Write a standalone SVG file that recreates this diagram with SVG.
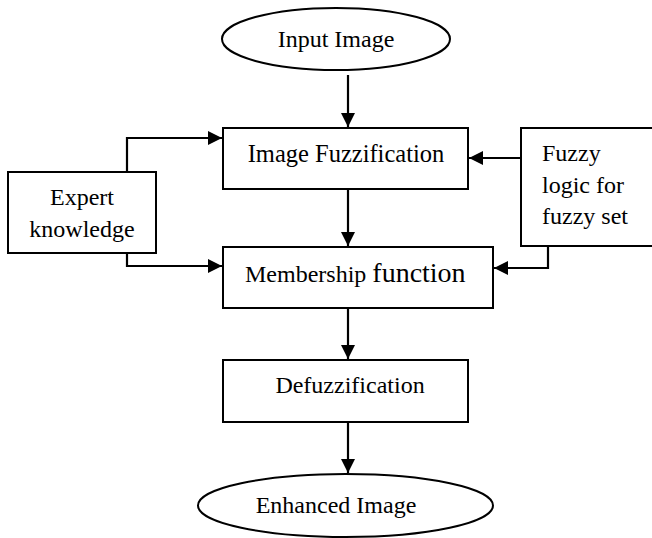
<svg xmlns="http://www.w3.org/2000/svg" width="652" height="538" viewBox="0 0 652 538">
<style>
.box{fill:#fff;stroke:#000;stroke-width:2}
.t{font-family:"Liberation Serif","Times New Roman",serif;font-size:24px;fill:#000}
.c{fill:none;stroke:#000;stroke-width:2.2}
</style>
<defs>
<marker id="ah" markerUnits="userSpaceOnUse" markerWidth="16" markerHeight="16" viewBox="0 0 16 16" refX="15" refY="8" orient="auto">
<path d="M1,1 L15,8 L1,15 Z" fill="#000"/>
</marker>
</defs>
<g id="connectors">
<line class="c" x1="348" y1="75" x2="348" y2="127" marker-end="url(#ah)"/>
<line class="c" x1="348" y1="190" x2="348" y2="246" marker-end="url(#ah)"/>
<line class="c" x1="348" y1="309" x2="348" y2="359" marker-end="url(#ah)"/>
<line class="c" x1="348" y1="423" x2="348" y2="473" marker-end="url(#ah)"/>
<polyline class="c" points="127,172 127,138 222,138" marker-end="url(#ah)"/>
<polyline class="c" points="127,253 127,266 222,266" marker-end="url(#ah)"/>
<line class="c" x1="521" y1="158" x2="469" y2="158" marker-end="url(#ah)"/>
<polyline class="c" points="548,246 548,268 494,268" marker-end="url(#ah)"/>
</g>
<g id="input-image">
<ellipse class="box" cx="336" cy="39" rx="114" ry="31"/>
<text class="t" x="336" y="47" text-anchor="middle">Input Image</text>
</g>
<g id="image-fuzzification">
<rect class="box" x="223" y="128" width="245" height="61"/>
<text class="t" x="346" y="162" text-anchor="middle" style="font-size:24.5px">Image Fuzzification</text>
</g>
<g id="expert-knowledge">
<rect class="box" x="8" y="172" width="148" height="81"/>
<text class="t" x="82" y="205" text-anchor="middle">Expert</text>
<text class="t" x="82" y="237" text-anchor="middle">knowledge</text>
</g>
<g id="fuzzy-logic">
<rect class="box" x="521" y="128" width="140" height="118"/>
<text class="t" x="542" y="161">Fuzzy</text>
<text class="t" x="542" y="193">logic for</text>
<text class="t" x="542" y="224">fuzzy set</text>
</g>
<g id="membership-function">
<rect class="box" x="223" y="247" width="270" height="61"/>
<text class="t" x="245" y="282">Membership <tspan style="font-size:28px">function</tspan></text>
</g>
<g id="defuzzification">
<rect class="box" x="223" y="360" width="245" height="62"/>
<text class="t" x="350" y="393" text-anchor="middle">Defuzzification</text>
</g>
<g id="enhanced-image">
<ellipse class="box" cx="345.5" cy="505.5" rx="147.5" ry="31.5"/>
<text class="t" x="336" y="513" text-anchor="middle">Enhanced Image</text>
</g>
</svg>
